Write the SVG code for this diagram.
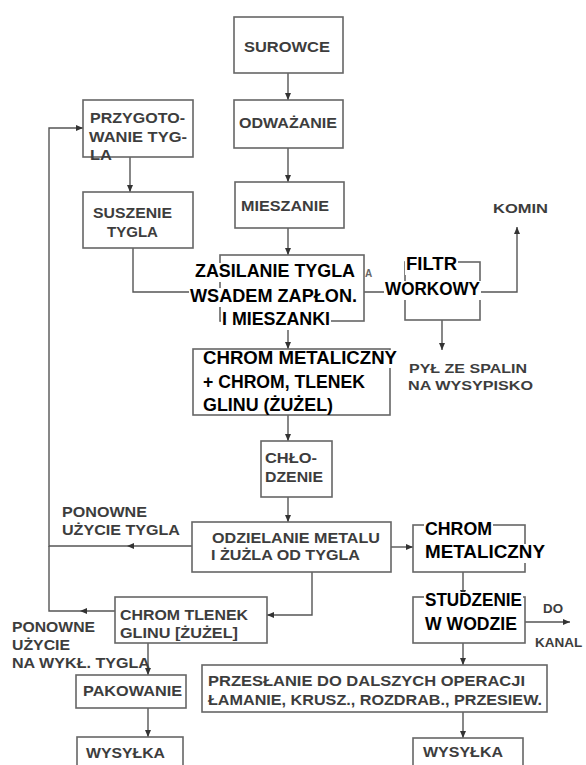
<svg xmlns="http://www.w3.org/2000/svg" width="586" height="765" viewBox="0 0 586 765">
  <style>
    .box { fill: none; stroke: #666; stroke-width: 1.6; }
    .ln { fill: none; stroke: #555; stroke-width: 1.4; }
    .g { font-family: "Liberation Sans", Arial, sans-serif; font-weight: bold; font-size: 15px; fill: #3d3d3d; }
    .s { font-size: 13.5px; }
    .k { font-family: "Liberation Sans", Arial, sans-serif; font-weight: bold; font-size: 18px; fill: #000; }
    .bg { fill: #fff; }
  </style>
  <defs>
    <marker id="ah" markerWidth="8" markerHeight="8" refX="7" refY="4" orient="auto" markerUnits="userSpaceOnUse">
      <path d="M0,1 L7,4 L0,7 z" fill="#333"/>
    </marker>
  </defs>
  <rect width="586" height="765" fill="#fff"/>

  <!-- connectors -->
  <g id="connectors">
    <path class="ln" d="M288,73 V100" marker-end="url(#ah)"/>
    <path class="ln" d="M288,148 V182" marker-end="url(#ah)"/>
    <path class="ln" d="M288,228 V255" marker-end="url(#ah)"/>
    <path class="ln" d="M130,157 V192" marker-end="url(#ah)"/>
    <path class="ln" d="M133,248 V292 H220"/>
    <path class="ln" d="M364,292 H405"/>
    <path class="ln" d="M480,292 H517 V227" marker-end="url(#ah)"/>
    <path class="ln" d="M442,320 V350" marker-end="url(#ah)"/>
    <path class="ln" d="M288,321 V349" marker-end="url(#ah)"/>
    <path class="ln" d="M288,415 V441" marker-end="url(#ah)"/>
    <path class="ln" d="M288,497 V522" marker-end="url(#ah)"/>
    <path class="ln" d="M391,547 H413" marker-end="url(#ah)"/>
    <path class="ln" d="M463,572 V597" marker-end="url(#ah)"/>
    <path class="ln" d="M525,622 H570" marker-end="url(#ah)"/>
    <path class="ln" d="M463,643 V665" marker-end="url(#ah)"/>
    <path class="ln" d="M463,712 V738" marker-end="url(#ah)"/>
    <!-- crucible reuse loop -->
    <path class="ln" d="M192,546 H127" marker-end="url(#ah)"/>
    <path class="ln" d="M127,546 H49 V128 H83" marker-end="url(#ah)"/>
    <path class="ln" d="M115,611 H80" marker-end="url(#ah)"/>
    <path class="ln" d="M80,611 H49 V546"/>
    <!-- slag branch -->
    <path class="ln" d="M312,572 V615 H267" marker-end="url(#ah)"/>
    <path class="ln" d="M148,643 V675" marker-end="url(#ah)"/>
    <path class="ln" d="M148,708 V737" marker-end="url(#ah)"/>
  </g>

  <g id="surowce">
    <rect class="box" x="234" y="17" width="109" height="56"/>
    <text class="g" x="244" y="52" textLength="86" lengthAdjust="spacingAndGlyphs">SUROWCE</text>
  </g>
  <g id="odwazanie">
    <rect class="box" x="234" y="100" width="109" height="48"/>
    <text class="g" x="239" y="128" textLength="98" lengthAdjust="spacingAndGlyphs">ODWAŻANIE</text>
  </g>
  <g id="mieszanie">
    <rect class="box" x="235" y="182" width="109" height="46"/>
    <text class="g" x="241" y="211" textLength="88" lengthAdjust="spacingAndGlyphs">MIESZANIE</text>
  </g>
  <g id="przygotowanie">
    <rect class="box" x="83" y="100" width="110" height="57"/>
    <text class="g" x="90" y="123" textLength="95" lengthAdjust="spacingAndGlyphs">PRZYGOTO-</text>
    <text class="g" x="89" y="142" textLength="98" lengthAdjust="spacingAndGlyphs">WANIE TYG-</text>
    <text class="g" x="90" y="160" textLength="22" lengthAdjust="spacingAndGlyphs">LA</text>
  </g>
  <g id="suszenie">
    <rect class="box" x="83" y="192" width="110" height="56"/>
    <text class="g" x="93" y="218" textLength="79" lengthAdjust="spacingAndGlyphs">SUSZENIE</text>
    <text class="g" x="107" y="237" textLength="51" lengthAdjust="spacingAndGlyphs">TYGLA</text>
  </g>
  <g id="zasilanie">
    <rect class="box" x="220" y="255" width="144" height="66"/>
    <text class="g" x="365" y="277" style="font-size:10px;fill:#666">A</text>
    <rect class="bg" x="194" y="263" width="162" height="19"/>
    <rect class="bg" x="189" y="288" width="169" height="19"/>
    <rect class="bg" x="221" y="311" width="110" height="19"/>
    <text class="k" x="195" y="277" textLength="160" lengthAdjust="spacingAndGlyphs">ZASILANIE TYGLA</text>
    <text class="k" x="190" y="302" textLength="167" lengthAdjust="spacingAndGlyphs">WSADEM ZAPŁON.</text>
    <text class="k" x="222" y="325" textLength="108" lengthAdjust="spacingAndGlyphs">I MIESZANKI</text>
  </g>
  <g id="filtr">
    <rect class="box" x="405" y="262" width="75" height="58"/>
    <rect class="bg" x="405" y="256" width="53" height="19"/>
    <rect class="bg" x="384" y="281" width="97" height="19"/>
    <text class="k" x="406" y="270" textLength="51" lengthAdjust="spacingAndGlyphs">FILTR</text>
    <text class="k" x="385" y="295" textLength="95" lengthAdjust="spacingAndGlyphs">WORKOWY</text>
  </g>
  <g id="komin">
    <text class="g s" x="493" y="213" textLength="55" lengthAdjust="spacingAndGlyphs">KOMIN</text>
  </g>
  <g id="pyl">
    <text class="g s" x="409" y="373" textLength="118" lengthAdjust="spacingAndGlyphs">PYŁ ZE SPALIN</text>
    <text class="g s" x="408" y="390" textLength="125" lengthAdjust="spacingAndGlyphs">NA WYSYPISKO</text>
  </g>
  <g id="chrom-mieszanina">
    <rect class="box" x="193" y="349" width="197" height="66"/>
    <rect class="bg" x="202" y="350" width="196" height="18"/>
    <text class="k" x="203" y="364" textLength="194" lengthAdjust="spacingAndGlyphs">CHROM METALICZNY</text>
    <text class="k" x="203" y="388" textLength="162" lengthAdjust="spacingAndGlyphs">+ CHROM, TLENEK</text>
    <text class="k" x="203" y="411" textLength="130" lengthAdjust="spacingAndGlyphs">GLINU (ŻUŻEL)</text>
  </g>
  <g id="chlodzenie">
    <rect class="box" x="261" y="441" width="71" height="56"/>
    <text class="g" x="265" y="463" textLength="52" lengthAdjust="spacingAndGlyphs">CHŁO-</text>
    <text class="g" x="265" y="482" textLength="58" lengthAdjust="spacingAndGlyphs">DZENIE</text>
  </g>
  <g id="odzielanie">
    <rect class="box" x="192" y="522" width="199" height="50"/>
    <text class="g" x="212" y="543" textLength="168" lengthAdjust="spacingAndGlyphs">ODZIELANIE METALU</text>
    <text class="g" x="211" y="560" textLength="149" lengthAdjust="spacingAndGlyphs">I ŻUŻLA OD TYGLA</text>
  </g>
  <g id="ponowne-tygiel">
    <text class="g" x="62" y="517" textLength="85" lengthAdjust="spacingAndGlyphs">PONOWNE</text>
    <text class="g" x="62" y="535" textLength="118" lengthAdjust="spacingAndGlyphs">UŻYCIE TYGLA</text>
  </g>
  <g id="chrom-metaliczny">
    <rect class="box" x="413" y="525" width="112" height="47"/>
    <rect class="bg" x="424" y="521" width="69" height="19"/>
    <rect class="bg" x="424" y="544" width="122" height="19"/>
    <text class="k" x="425" y="535" textLength="67" lengthAdjust="spacingAndGlyphs">CHROM</text>
    <text class="k" x="425" y="558" textLength="120" lengthAdjust="spacingAndGlyphs">METALICZNY</text>
  </g>
  <g id="studzenie">
    <rect class="box" x="413" y="597" width="112" height="46"/>
    <rect class="bg" x="424" y="592" width="99" height="18"/>
    <rect class="bg" x="424" y="616" width="94" height="18"/>
    <text class="k" x="425" y="606" textLength="97" lengthAdjust="spacingAndGlyphs">STUDZENIE</text>
    <text class="k" x="425" y="630" textLength="92" lengthAdjust="spacingAndGlyphs">W WODZIE</text>
  </g>
  <g id="do-kanalu">
    <text class="g s" x="543" y="613" textLength="20" lengthAdjust="spacingAndGlyphs">DO</text>
    <text class="g s" x="535" y="647">KANAL</text>
  </g>
  <g id="chrom-tlenek">
    <rect class="box" x="115" y="597" width="152" height="46"/>
    <text class="g" x="120" y="620" textLength="128" lengthAdjust="spacingAndGlyphs">CHROM TLENEK</text>
    <text class="g" x="120" y="638" textLength="118" lengthAdjust="spacingAndGlyphs">GLINU [ŻUŻEL]</text>
  </g>
  <g id="ponowne-wykl">
    <text class="g" x="12" y="632" textLength="83" lengthAdjust="spacingAndGlyphs">PONOWNE</text>
    <text class="g" x="12" y="650" textLength="58" lengthAdjust="spacingAndGlyphs">UŻYCIE</text>
    <text class="g" x="12" y="668" textLength="138" lengthAdjust="spacingAndGlyphs">NA WYKŁ. TYGLA</text>
  </g>
  <g id="pakowanie">
    <rect class="box" x="76" y="675" width="110" height="33"/>
    <text class="g" x="83" y="696" textLength="99" lengthAdjust="spacingAndGlyphs">PAKOWANIE</text>
  </g>
  <g id="wysylka-lewa">
    <rect class="box" x="77" y="737" width="106" height="40"/>
    <text class="g" x="86" y="758" textLength="79" lengthAdjust="spacingAndGlyphs">WYSYŁKA</text>
  </g>
  <g id="przeslanie">
    <rect class="box" x="202" y="665" width="345" height="47"/>
    <text class="g" x="208" y="686" textLength="317" lengthAdjust="spacingAndGlyphs">PRZESŁANIE DO DALSZYCH OPERACJI</text>
    <text class="g" x="208" y="705" textLength="334" lengthAdjust="spacingAndGlyphs">ŁAMANIE, KRUSZ., ROZDRAB., PRZESIEW.</text>
  </g>
  <g id="wysylka-prawa">
    <rect class="box" x="413" y="738" width="110" height="40"/>
    <text class="g" x="423" y="757" textLength="80" lengthAdjust="spacingAndGlyphs">WYSYŁKA</text>
  </g>
</svg>
